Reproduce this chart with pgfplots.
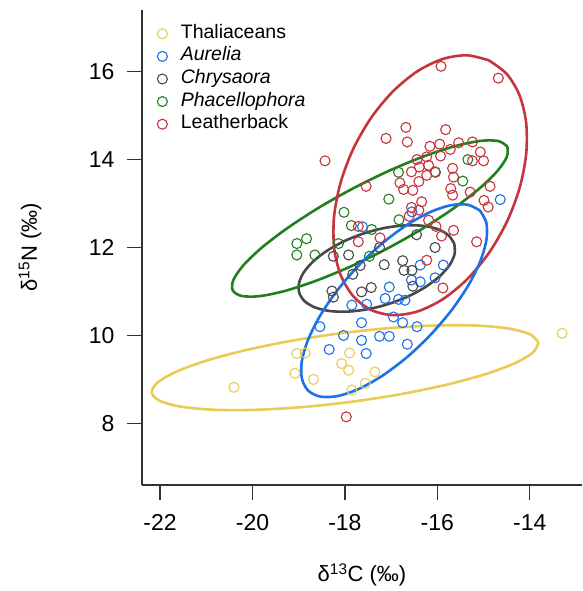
\documentclass[border=0pt]{standalone}
\usepackage{fontspec}
\setmainfont{Liberation Sans}
\usepackage{pgfplots}
\pgfplotsset{compat=1.18}
\definecolor{cY}{RGB}{232,204,84}
\definecolor{cB}{RGB}{28,112,232}
\definecolor{cK}{RGB}{72,72,72}
\definecolor{cG}{RGB}{32,128,32}
\definecolor{cR}{RGB}{198,52,60}
\begin{document}
\begin{tikzpicture}[x=1pt,y=1pt]
\useasboundingbox (0,0) rectangle (582,591);
\begin{axis}[
  at={(142pt,106pt)}, anchor=south west,
  scale only axis, width=440pt, height=475pt,
  xmin=-22.39, xmax=-12.87, ymin=6.6, ymax=17.4,
  axis x line*=bottom, axis y line*=left,
  axis line style={line width=1.4pt, color=black!80},
  xtick={-22,-20,-18,-16,-14}, ytick={8,10,12,14,16},
  tick align=outside, major tick length=15pt,
  tick style={line width=1.4pt, color=black!80},
  /pgf/number format/assume math mode=true,
  ticklabel style={font=\fontsize{23}{27}\selectfont},
  xticklabel style={yshift=-11pt},
  yticklabel style={xshift=-9pt},
  label style={font=\fontsize{22}{26}\selectfont},
  xlabel={δ\textsuperscript{13}C (‰)},
  ylabel={δ\textsuperscript{15}N (‰)},
  xlabel style={at={(axis description cs:0.5,-0.1895)}, anchor=center},
  ylabel style={at={(axis description cs:-0.2545,0.5)}, anchor=center},
  legend cell align=left,
  legend style={draw=none, fill=none, at={(axis description cs:0.025,0.976)}, anchor=north west,
    font=\fontsize{19.5}{21}\selectfont, row sep=2.2pt,
    nodes={inner sep=1.3pt, text height=13.5pt, text depth=4.3pt}},
  legend image code/.code={\path (-6pt,0pt) (17pt,0pt); \draw[#1, only marks] plot coordinates {(0pt,0pt)};},
  mark size=5pt,
]
% points
\addplot[only marks, mark=o, cY, mark options={line width=1.1pt}] coordinates {
(-20.40,8.82) (-19.04,9.59) (-18.86,9.60) (-19.08,9.14) (-18.68,9.00) (-17.90,9.60)
(-18.07,9.36) (-17.92,9.21) (-17.85,8.76) (-17.35,9.17) (-17.56,8.91) (-13.30,10.05)
};
\addlegendentry{Thaliaceans}
\addplot[only marks, mark=o, cB, mark options={line width=1.1pt}] coordinates {
(-14.64,13.09) (-17.62,12.47) (-16.55,12.81) (-16.37,11.60) (-15.87,11.60) (-16.56,11.26)
(-16.37,11.22) (-16.05,11.31) (-17.04,11.10) (-17.85,10.69) (-17.53,10.71) (-17.13,10.84)
(-16.84,10.82) (-16.70,10.80) (-17.64,10.29) (-16.95,10.42) (-16.75,10.29) (-16.44,10.20)
(-18.54,10.20) (-18.03,10.00) (-18.34,9.68) (-17.64,9.89) (-17.25,9.98) (-17.04,9.98)
(-17.54,9.59) (-16.65,9.80)
};
\addlegendentry{\textit{Aurelia}}
\addplot[only marks, mark=o, cK, mark options={line width=1.1pt}] coordinates {
(-16.45,12.29) (-16.05,12.00) (-17.25,12.00) (-18.25,11.80) (-17.92,11.83) (-17.67,11.59)
(-17.15,11.61) (-16.75,11.70) (-16.72,11.48) (-16.55,11.48) (-17.83,11.39) (-17.64,10.99)
(-17.43,11.09) (-18.28,11.01) (-18.25,10.87) (-16.53,11.12)
};
\addlegendentry{\textit{Chrysaora}}
\addplot[only marks, mark=o, cG, mark options={line width=1.1pt}] coordinates {
(-16.84,13.71) (-16.04,13.71) (-15.45,13.51) (-15.34,14.00) (-17.05,13.10) (-18.02,12.80)
(-16.83,12.63) (-17.86,12.50) (-17.42,12.41) (-19.04,12.09) (-18.83,12.20) (-19.04,11.83)
(-18.65,11.83) (-18.14,12.09) (-17.47,11.80)
};
\addlegendentry{\textit{Phacellophora}}
\addplot[only marks, mark=o, cR, mark options={line width=1.1pt}] coordinates {
(-15.92,16.12) (-14.68,15.85) (-18.43,13.97) (-17.11,14.48) (-16.68,14.73) (-16.65,14.40)
(-15.82,14.68) (-16.16,14.30) (-15.95,14.35) (-15.72,14.23) (-15.54,14.38) (-15.24,14.40)
(-15.07,14.17) (-15.00,13.97) (-15.24,13.97) (-16.44,14.00) (-16.23,14.06) (-15.93,14.08)
(-16.39,13.83) (-16.19,13.87) (-16.56,13.72) (-16.40,13.50) (-16.23,13.64) (-16.05,13.72)
(-15.67,13.80) (-15.65,13.60) (-16.81,13.47) (-16.73,13.32) (-16.53,13.30) (-17.54,13.39)
(-15.71,13.34) (-15.67,13.19) (-15.29,13.26) (-14.86,13.39) (-14.99,13.07) (-14.90,12.92)
(-16.34,13.04) (-16.56,12.91) (-16.61,12.71) (-16.19,12.62) (-16.03,12.48) (-15.65,12.39)
(-15.91,12.26) (-15.15,12.13) (-17.24,12.22) (-17.71,12.48) (-17.71,12.13) (-16.23,11.71)
(-15.88,11.08) (-17.97,8.15) (-16.40,12.85)
};
\addlegendentry{Leatherback}
% ellipses
\addplot[cY, line width=2.6pt, smooth, forget plot] coordinates {
(-13.812,9.836) (-13.980,10.019) (-14.421,10.151) (-15.106,10.223) (-15.987,10.229) (-17.006,10.170)
(-18.092,10.050) (-19.172,9.876) (-20.171,9.661) (-21.023,9.419) (-21.668,9.167) (-22.062,8.922)
(-22.180,8.700) (-22.012,8.517) (-21.571,8.385) (-20.886,8.313) (-20.005,8.307) (-18.986,8.366)
(-17.900,8.486) (-16.820,8.660) (-15.821,8.875) (-14.969,9.117) (-14.324,9.369) (-13.930,9.614)
(-13.812,9.836)
};
\addplot[cK, line width=2.6pt, smooth, forget plot] coordinates {
(-15.632,12.082) (-15.753,12.273) (-15.979,12.412) (-16.296,12.491) (-16.683,12.504) (-17.112,12.450)
(-17.554,12.333) (-17.980,12.161) (-18.360,11.945) (-18.668,11.701) (-18.884,11.444) (-18.992,11.193)
(-18.986,10.964) (-18.865,10.773) (-18.639,10.634) (-18.322,10.555) (-17.935,10.542) (-17.506,10.596)
(-17.064,10.713) (-16.638,10.885) (-16.258,11.101) (-15.950,11.346) (-15.734,11.602) (-15.626,11.853)
(-15.632,12.082)
};
\addplot[cG, line width=2.6pt, smooth, forget plot] coordinates {
(-14.485,14.296) (-14.676,14.420) (-15.057,14.425) (-15.601,14.309) (-16.271,14.080) (-17.023,13.755)
(-17.803,13.355) (-18.560,12.908) (-19.241,12.443) (-19.801,11.994) (-20.201,11.589) (-20.414,11.258)
(-20.425,11.022) (-20.234,10.898) (-19.853,10.893) (-19.309,11.009) (-18.639,11.238) (-17.887,11.563)
(-17.107,11.963) (-16.350,12.410) (-15.669,12.875) (-15.109,13.324) (-14.709,13.729) (-14.496,14.060)
(-14.485,14.296)
};
\addplot[cR, line width=2.6pt, smooth, forget plot] coordinates {
(-14.884,16.254) (-15.358,16.370) (-15.887,16.285) (-16.434,16.005) (-16.962,15.548) (-17.435,14.945)
(-17.821,14.239) (-18.093,13.476) (-18.234,12.710) (-18.233,11.991) (-18.090,11.370) (-17.816,10.888)
(-17.428,10.578) (-16.954,10.462) (-16.425,10.547) (-15.878,10.827) (-15.350,11.284) (-14.877,11.887)
(-14.491,12.593) (-14.219,13.356) (-14.078,14.122) (-14.079,14.841) (-14.222,15.462) (-14.497,15.944)
(-14.884,16.254)
};
\addplot[cB, line width=2.6pt, smooth, forget plot] coordinates {
(-15.081,12.842) (-15.347,12.974) (-15.721,12.958) (-16.178,12.794) (-16.687,12.493) (-17.213,12.076)
(-17.719,11.572) (-18.172,11.015) (-18.541,10.442) (-18.800,9.893) (-18.933,9.405) (-18.929,9.012)
(-18.789,8.740) (-18.523,8.608) (-18.149,8.624) (-17.692,8.788) (-17.183,9.089) (-16.657,9.506)
(-16.151,10.010) (-15.698,10.567) (-15.329,11.140) (-15.070,11.689) (-14.937,12.177) (-14.941,12.570)
(-15.081,12.842)
};
\end{axis}
\end{tikzpicture}
\end{document}
